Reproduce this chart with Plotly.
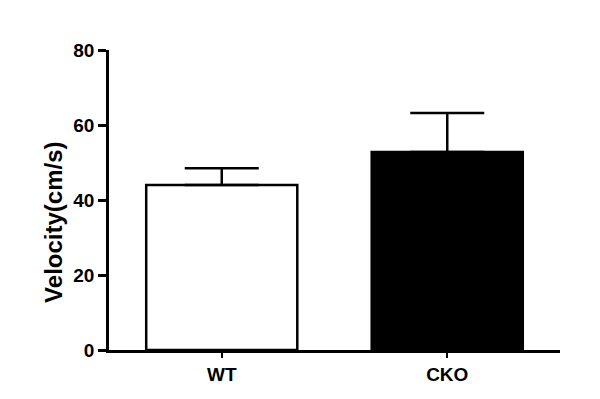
import plotly.graph_objects as go

categories = ["WT", "CKO"]
means = [44.0, 52.8]
errors = [4.5, 10.4]
fill_colors = ["white", "black"]
y_ticks = [0, 20, 40, 60, 80]
y_title = "Velocity(cm/s)"

FONT = "Liberation Sans, Arial, sans-serif"

fig = go.Figure()
fig.add_trace(go.Bar(
    x=categories,
    y=means,
    marker=dict(color=fill_colors, line=dict(color="black", width=2.5)),
    error_y=dict(type="data", symmetric=False, array=errors,
                 arrayminus=[0] * len(errors),
                 color="black", thickness=2.5, width=37),
    showlegend=False,
))

# The page body adds an 8px margin, so the figure is 8px smaller and shifted.
fig.update_layout(
    width=592, height=391,
    margin=dict(l=101, r=40, t=42, b=49),
    paper_bgcolor="white", plot_bgcolor="white",
    bargap=0.33,
    font=dict(family=FONT, color="black"),
    xaxis=dict(
        range=[-0.5, 1.5],
        showline=True, linecolor="black", linewidth=2.5,
        ticks="outside", ticklen=5, tickwidth=2, tickcolor="black",
        tickfont=dict(family=FONT, size=19, weight="bold"),
        showgrid=False, zeroline=False,
    ),
    yaxis=dict(
        range=[0, 80], tickvals=y_ticks,
        showline=True, linecolor="black", linewidth=2.5,
        ticks="outside", ticklen=8, tickwidth=2.5, tickcolor="black",
        tickfont=dict(family=FONT, size=19, weight="bold"),
        showgrid=False, zeroline=False,
    ),
)

fig.add_annotation(
    text=y_title, textangle=-90, showarrow=False,
    xref="paper", yref="paper", x=-0.122, y=0.427,
    xanchor="center", yanchor="middle",
    font=dict(family=FONT, size=24, weight="bold", color="black"),
)

fig.write_html("out.html")
